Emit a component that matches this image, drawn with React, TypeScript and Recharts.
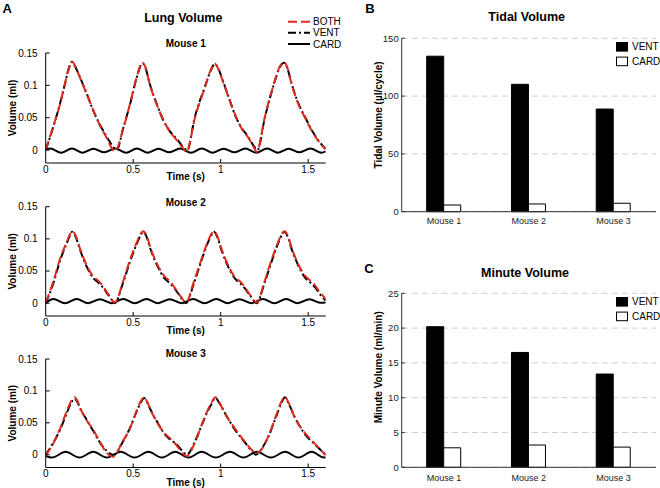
import React from 'react';
import { LineChart, Line, XAxis, YAxis, BarChart, Bar, CartesianGrid, Legend } from 'recharts';

const FONT = '"Liberation Sans", Arial, Helvetica, sans-serif';
const RED = '#dd2a1f';

// ---------- Panel A: lung volume traces, [time (s), volume (ml)] ----------
const m1Vent = [
  [0, 0], [0.04, 0.033], [0.08, 0.07], [0.11, 0.102], [0.13, 0.124], [0.15, 0.136], [0.17, 0.128], [0.2, 0.11],
  [0.235, 0.087], [0.27, 0.062], [0.31, 0.039], [0.35, 0.02], [0.38, 0.007], [0.405, 0],
  [0.445, 0.036], [0.485, 0.074], [0.52, 0.112], [0.553, 0.134], [0.57, 0.127], [0.595, 0.102], [0.635, 0.071],
  [0.672, 0.046], [0.71, 0.029], [0.75, 0.017], [0.785, 0.005], [0.808, 0],
  [0.853, 0.052], [0.91, 0.098], [0.945, 0.124], [0.965, 0.133], [0.985, 0.127], [1.006, 0.112], [1.044, 0.083],
  [1.082, 0.054], [1.12, 0.034], [1.158, 0.02], [1.19, 0.006], [1.21, 0],
  [1.253, 0.051], [1.3, 0.098], [1.338, 0.128], [1.362, 0.135], [1.38, 0.127], [1.405, 0.103], [1.444, 0.072],
  [1.482, 0.051], [1.52, 0.031], [1.558, 0.015], [1.6, 0.002],
];
const m1Both = [
  [0, 0.001], [0.04, 0.034], [0.08, 0.069], [0.11, 0.103], [0.13, 0.125], [0.15, 0.137], [0.17, 0.129], [0.2, 0.109],
  [0.235, 0.086], [0.27, 0.063], [0.31, 0.038], [0.35, 0.018], [0.375, 0.004], [0.395, -0.002],
  [0.445, 0.035], [0.485, 0.075], [0.52, 0.113], [0.553, 0.135], [0.57, 0.128], [0.595, 0.101], [0.635, 0.07],
  [0.672, 0.047], [0.71, 0.028], [0.75, 0.015], [0.785, 0.003], [0.805, -0.003],
  [0.853, 0.05], [0.91, 0.097], [0.945, 0.125], [0.965, 0.134], [0.985, 0.126], [1.006, 0.111], [1.044, 0.082],
  [1.082, 0.055], [1.12, 0.033], [1.158, 0.019], [1.19, 0.004], [1.205, -0.003],
  [1.253, 0.052], [1.3, 0.099], [1.338, 0.129], [1.362, 0.136], [1.38, 0.128], [1.405, 0.102], [1.444, 0.071],
  [1.482, 0.05], [1.52, 0.03], [1.558, 0.014], [1.6, 0.001],
];
const m1Card = [
  [0, 0.001], [0.026, 0.0025], [0.088, -0.004], [0.15, 0.0025], [0.212, -0.004], [0.273, 0.002], [0.335, -0.0035],
  [0.397, 0.0025], [0.46, -0.004], [0.521, 0.0025], [0.584, -0.004], [0.645, 0.002], [0.707, -0.0035], [0.768, 0.0025],
  [0.83, -0.004], [0.892, 0.0025], [0.955, -0.004], [1.017, 0.002], [1.08, -0.0035], [1.141, 0.0025], [1.203, -0.004],
  [1.265, 0.0025], [1.328, -0.004], [1.389, 0.002], [1.451, -0.0035], [1.513, 0.0025], [1.576, -0.004], [1.6, -0.002],
];

const m2Vent = [
  [0, 0], [0.044, 0.031], [0.082, 0.066], [0.12, 0.093], [0.14, 0.106], [0.152, 0.111], [0.17, 0.104], [0.196, 0.083],
  [0.234, 0.057], [0.272, 0.039], [0.3, 0.032], [0.325, 0.025], [0.36, 0.012], [0.396, 0],
  [0.44, 0.03], [0.48, 0.063], [0.52, 0.092], [0.545, 0.107], [0.558, 0.111], [0.575, 0.104], [0.6, 0.083],
  [0.64, 0.057], [0.678, 0.039], [0.705, 0.032], [0.73, 0.025], [0.765, 0.012], [0.802, 0],
  [0.846, 0.03], [0.886, 0.063], [0.925, 0.093], [0.95, 0.107], [0.962, 0.111], [0.98, 0.103], [1.005, 0.082],
  [1.044, 0.056], [1.082, 0.038], [1.11, 0.031], [1.135, 0.024], [1.17, 0.011], [1.206, 0],
  [1.25, 0.031], [1.29, 0.064], [1.328, 0.093], [1.352, 0.107], [1.364, 0.111], [1.382, 0.104], [1.408, 0.082],
  [1.446, 0.057], [1.484, 0.039], [1.512, 0.032], [1.538, 0.025], [1.57, 0.013], [1.6, 0.004],
];
const m2Both = [
  [0, 0.001], [0.044, 0.034], [0.082, 0.069], [0.12, 0.095], [0.14, 0.108], [0.152, 0.112], [0.17, 0.106], [0.196, 0.085],
  [0.234, 0.059], [0.272, 0.041], [0.3, 0.035], [0.325, 0.027], [0.36, 0.013], [0.396, 0.001],
  [0.44, 0.032], [0.48, 0.066], [0.52, 0.094], [0.545, 0.109], [0.558, 0.112], [0.575, 0.106], [0.6, 0.085],
  [0.64, 0.059], [0.678, 0.042], [0.705, 0.035], [0.73, 0.027], [0.765, 0.013], [0.802, 0.001],
  [0.846, 0.033], [0.886, 0.065], [0.925, 0.095], [0.95, 0.109], [0.962, 0.112], [0.98, 0.105], [1.005, 0.084],
  [1.044, 0.058], [1.082, 0.04], [1.11, 0.034], [1.135, 0.026], [1.17, 0.012], [1.206, 0.001],
  [1.25, 0.033], [1.29, 0.067], [1.328, 0.095], [1.352, 0.109], [1.364, 0.112], [1.382, 0.106], [1.408, 0.084],
  [1.446, 0.059], [1.484, 0.042], [1.512, 0.035], [1.538, 0.028], [1.57, 0.016], [1.6, 0.007],
];
const m2Card = [
  [0, 0], [0.044, 0.0065], [0.11, 0], [0.177, 0.0065], [0.243, 0], [0.31, 0.006], [0.376, 0], [0.443, 0.0065],
  [0.509, 0], [0.576, 0.0065], [0.642, 0], [0.709, 0.006], [0.775, 0], [0.842, 0.0065], [0.908, 0], [0.975, 0.0065],
  [1.041, 0], [1.108, 0.006], [1.174, 0], [1.241, 0.0065], [1.307, 0], [1.374, 0.0065], [1.44, 0], [1.507, 0.006],
  [1.573, 0.0005], [1.6, 0.001],
];

const m3Vent = [
  [0, 0], [0.044, 0.019], [0.082, 0.039], [0.12, 0.065], [0.149, 0.083], [0.165, 0.088], [0.18, 0.083], [0.196, 0.073],
  [0.234, 0.055], [0.272, 0.037], [0.31, 0.019], [0.349, 0.006], [0.39, 0],
  [0.44, 0.02], [0.48, 0.041], [0.52, 0.068], [0.548, 0.084], [0.562, 0.089], [0.58, 0.082], [0.6, 0.07],
  [0.64, 0.05], [0.678, 0.033], [0.71, 0.024], [0.745, 0.017], [0.78, 0.006], [0.806, 0],
  [0.853, 0.021], [0.9, 0.052], [0.948, 0.08], [0.97, 0.089], [0.99, 0.082], [1.025, 0.065], [1.082, 0.039],
  [1.139, 0.019], [1.18, 0.005], [1.2, 0],
  [1.24, 0.012], [1.272, 0.028], [1.32, 0.062], [1.35, 0.083], [1.367, 0.09], [1.385, 0.082], [1.425, 0.058],
  [1.482, 0.032], [1.539, 0.016], [1.6, 0],
];
const m3Both = [
  [0, -0.001], [0.044, 0.018], [0.082, 0.041], [0.12, 0.068], [0.149, 0.086], [0.165, 0.09], [0.18, 0.085], [0.196, 0.074],
  [0.234, 0.054], [0.272, 0.039], [0.31, 0.02], [0.349, 0.003], [0.385, -0.003],
  [0.44, 0.021], [0.48, 0.04], [0.52, 0.069], [0.548, 0.086], [0.562, 0.09], [0.58, 0.083], [0.6, 0.07],
  [0.64, 0.049], [0.678, 0.034], [0.71, 0.026], [0.745, 0.016], [0.78, 0.003], [0.806, -0.002],
  [0.853, 0.019], [0.9, 0.053], [0.948, 0.082], [0.97, 0.09], [0.99, 0.083], [1.025, 0.064], [1.082, 0.041],
  [1.139, 0.02], [1.18, 0.007], [1.2, 0.002],
  [1.24, 0.011], [1.272, 0.029], [1.32, 0.064], [1.35, 0.085], [1.367, 0.091], [1.385, 0.083], [1.425, 0.057],
  [1.482, 0.034], [1.539, 0.017], [1.6, -0.001],
];
const m3Card = [
  [0, -0.002], [0.035, -0.0045], [0.114, 0.0045], [0.193, -0.0045], [0.272, 0.0045], [0.35, -0.0045], [0.429, 0.0045],
  [0.508, -0.0045], [0.587, 0.0045], [0.664, -0.0045], [0.74, 0.0045], [0.816, -0.0045], [0.891, 0.0045],
  [0.972, -0.0045], [1.053, 0.0045], [1.13, -0.0045], [1.206, 0.0045], [1.287, -0.0045], [1.368, 0.0045],
  [1.444, -0.0045], [1.52, 0.0045], [1.59, -0.0045], [1.6, -0.0044],
];

const timeTicks = [0, 0.5, 1, 1.5];
const volTicks = [0, 0.05, 0.1, 0.15];
const lineNames = ['BOTH', 'VENT', 'CARD'];

// ---------- Panels B and C ----------
const mice = ['Mouse 1', 'Mouse 2', 'Mouse 3'];
const tidalVent = [134.5, 110.2, 88.8];
const tidalCard = [5.8, 6.7, 7.3];
const minuteVent = [20.2, 16.5, 13.4];
const minuteCard = [2.8, 3.2, 2.9];
const tidalTicks = [0, 50, 100, 150];
const minuteTicks = [0, 5, 10, 15, 20, 25];
const barNames = ['VENT', 'CARD'];

const pts = (a: number[][]) => a.map(([t, v]) => ({ t, v }));
const tidalData = mice.map((name, i) => ({ name, vent: tidalVent[i], card: tidalCard[i] }));
const minuteData = mice.map((name, i) => ({ name, vent: minuteVent[i], card: minuteCard[i] }));

// ---------- helpers ----------
const Txt = ({ x, y, size, bold, children }: any) => (
  <div style={{ position: 'absolute', left: x, top: y, transform: 'translate(-50%,-50%)', fontSize: size,
    fontWeight: bold ? 'bold' : 'normal', lineHeight: 1, whiteSpace: 'nowrap', fontFamily: FONT, color: '#000' }}>
    {children}
  </div>
);

const LineXTick = (p: any) => {
  const ay = p.y - 2.5;
  return (
    <g>
      {p.payload.value !== 0 && <line x1={p.x} x2={p.x} y1={ay} y2={ay - 4} stroke="#000" />}
      <text x={p.x} y={p.y} dy="0.71em" textAnchor="middle" fontSize={10} fill="#000" fontFamily={FONT}>{p.payload.value}</text>
    </g>
  );
};
const LineYTick = (p: any) => {
  const ax = p.x + 8;
  return (
    <g>
      <line x1={ax} x2={ax + 4} y1={p.y} y2={p.y} stroke="#000" />
      <text x={p.x} y={p.y} dy="0.35em" textAnchor="end" fontSize={10} fill="#000" fontFamily={FONT}>{p.payload.value}</text>
    </g>
  );
};
const BarYTick = (p: any) => {
  const ax = p.x + 3;
  return (
    <g>
      <line x1={ax} x2={ax + 3} y1={p.y} y2={p.y} stroke="#333" />
      <text x={p.x} y={p.y} dy="0.35em" textAnchor="end" fontSize={9.5} fill="#222" fontFamily={FONT}>{p.payload.value}</text>
    </g>
  );
};
const BarXTick = (p: any) => (
  <text x={p.x} y={p.y} dy="0.71em" textAnchor="middle" fontSize={9} fill="#222" fontFamily={FONT}>{p.payload.value}</text>
);

const XTitle = ({ viewBox, text, dy }: any) => (
  <text x={viewBox.x + viewBox.width / 2} y={viewBox.y + dy} textAnchor="middle" fontSize={10} fontWeight="bold"
    fill="#000" fontFamily={FONT}>{text}</text>
);
const YTitle = ({ viewBox, text, cx, dy }: any) => {
  const x = viewBox.x + cx;
  const y = viewBox.y + viewBox.height / 2 + (dy || 0);
  return (
    <text x={x} y={y} transform={`rotate(-90, ${x}, ${y})`} textAnchor="middle" dominantBaseline="central"
      fontSize={10} fontWeight="bold" fill="#000" fontFamily={FONT}>{text}</text>
  );
};

const LineLegend = () => (
  <svg width={80} height={36} style={{ overflow: 'visible' }}>
    {lineNames.map((n, i) => {
      const y = [6.7, 17.7, 29][i];
      const stroke = n === 'BOTH' ? RED : '#000';
      const dash = n === 'BOTH' ? '9 4' : n === 'VENT' ? '8 3 2 3' : undefined;
      return (
        <g key={n}>
          <line x1={2} x2={24} y1={y} y2={y} stroke={stroke} strokeWidth={2} strokeDasharray={dash} />
          <text x={27} y={y} dy="0.35em" fontSize={10} fontFamily={FONT} fill="#000">{n}</text>
        </g>
      );
    })}
  </svg>
);

const BarLegend = () => (
  <svg width={60} height={30} style={{ overflow: 'visible' }}>
    {barNames.map((n, i) => {
      const y = 0.5 + i * 14.6;
      return (
        <g key={n}>
          <rect x={0.5} y={y} width={11} height={8.6} fill={n === 'VENT' ? '#000' : '#fff'} stroke="#000" />
          <text x={16} y={y + 4.3} dy="0.35em" fontSize={10} fontFamily={FONT} fill="#000">{n}</text>
        </g>
      );
    })}
  </svg>
);

function VolumePlot({ top, height, plotTop, xAxisH, titleDy, both, vent, card, legend }: any) {
  return (
    <div style={{ position: 'absolute', left: 0, top, width: 340, height }}>
      <LineChart width={340} height={height} margin={{ top: plotTop, right: 14.3, bottom: 0, left: 0 }}>
        <XAxis type="number" dataKey="t" domain={[0, 1.6]} ticks={timeTicks} allowDataOverflow height={xAxisH}
          tickSize={0} tickMargin={2.5} tick={LineXTick} stroke="#000"
          label={<XTitle text="Time (s)" dy={titleDy} />} />
        <YAxis type="number" domain={[-0.02, 0.15]} ticks={volTicks} allowDataOverflow width={45.7}
          tickSize={0} tickMargin={8} tick={LineYTick} stroke="#000"
          label={<YTitle text="Volume (ml)" cx={12.5} />} />
        <Line data={pts(card)} dataKey="v" name="CARD" type="monotone" stroke="#000" strokeWidth={2}
          dot={false} activeDot={false} isAnimationActive={false} />
        <Line data={pts(vent)} dataKey="v" name="VENT" type="monotone" stroke="#000" strokeWidth={2}
          strokeDasharray="8 3 2 3" dot={false} activeDot={false} isAnimationActive={false} />
        <Line data={pts(both)} dataKey="v" name="BOTH" type="monotone" stroke={RED} strokeWidth={2}
          strokeDasharray="9 4" dot={false} activeDot={false} isAnimationActive={false} />
        {legend && (
          <Legend layout="vertical" align="center" verticalAlign="middle" content={LineLegend}
            wrapperStyle={{ position: 'absolute', left: 286, top: 15, width: 80, height: 36, right: 'auto', bottom: 'auto' }} />
        )}
      </LineChart>
    </div>
  );
}

function VolumeBars({ top, height, data, plotTop, xAxisH, ticks, domain, title, titleDy, tickMargin, legendTop }: any) {
  return (
    <div style={{ position: 'absolute', left: 340, top, width: 320, height }}>
      <BarChart width={320} height={height} data={data} margin={{ top: plotTop, right: 4, bottom: 0, left: 0 }}
        barSize={17} barGap={0}>
        <CartesianGrid vertical={false} stroke="#cfcfcf" strokeDasharray="6 4" />
        <XAxis dataKey="name" height={xAxisH} tickSize={0} tickMargin={tickMargin} tick={BarXTick} stroke="#333" />
        <YAxis type="number" domain={domain} ticks={ticks} width={61.7} tickSize={0} tickMargin={3}
          tick={BarYTick} stroke="#333" label={<YTitle text={title} cx={38.3} dy={titleDy} />} />
        <Bar dataKey="vent" name="VENT" fill="#000" stroke="#000" isAnimationActive={false} />
        <Bar dataKey="card" name="CARD" fill="#fff" stroke="#000" isAnimationActive={false} />
        <Legend layout="vertical" align="center" verticalAlign="middle" content={BarLegend}
          wrapperStyle={{ position: 'absolute', left: 276.2, top: legendTop, width: 60, height: 30, right: 'auto', bottom: 'auto' }} />
      </BarChart>
    </div>
  );
}

export default function App() {
  return (
    <div style={{ position: 'absolute', left: 0, top: 0, width: 660, height: 488, background: '#fff',
      fontFamily: FONT, overflow: 'hidden' }}>
      <VolumePlot top={0} height={190} plotTop={53} xAxisH={27} titleDy={17.3}
        both={m1Both} vent={m1Vent} card={m1Card} legend />
      <VolumePlot top={190} height={153} plotTop={16.7} xAxisH={27} titleDy={17.6}
        both={m2Both} vent={m2Vent} card={m2Card} />
      <VolumePlot top={340} height={148} plotTop={19} xAxisH={20.5} titleDy={18}
        both={m3Both} vent={m3Vent} card={m3Card} />
      <VolumeBars top={0} height={240} data={tidalData} plotTop={38.3} xAxisH={28.3} ticks={tidalTicks}
        domain={[0, 150]} title="Tidal Volume (µl/cycle)" titleDy={-10} tickMargin={6} legendTop={42.2} />
      <VolumeBars top={240} height={248} data={minuteData} plotTop={53.3} xAxisH={20.7} ticks={minuteTicks}
        domain={[0, 25]} title="Minute Volume (ml/min)" titleDy={-13} tickMargin={7} legendTop={56.8} />

      <Txt x={7.2} y={7.5} size={13} bold>A</Txt>
      <Txt x={370} y={7.8} size={13} bold>B</Txt>
      <Txt x={369} y={268.3} size={13} bold>C</Txt>
      <Txt x={183.3} y={17.7} size={12.5} bold>Lung Volume</Txt>
      <Txt x={526.7} y={17.3} size={12.5} bold>Tidal Volume</Txt>
      <Txt x={525} y={273.3} size={12.5} bold>Minute Volume</Txt>
      <Txt x={185.8} y={44} size={10} bold>Mouse 1</Txt>
      <Txt x={185.7} y={202.7} size={10} bold>Mouse 2</Txt>
      <Txt x={185.7} y={354.3} size={10} bold>Mouse 3</Txt>
    </div>
  );
}
